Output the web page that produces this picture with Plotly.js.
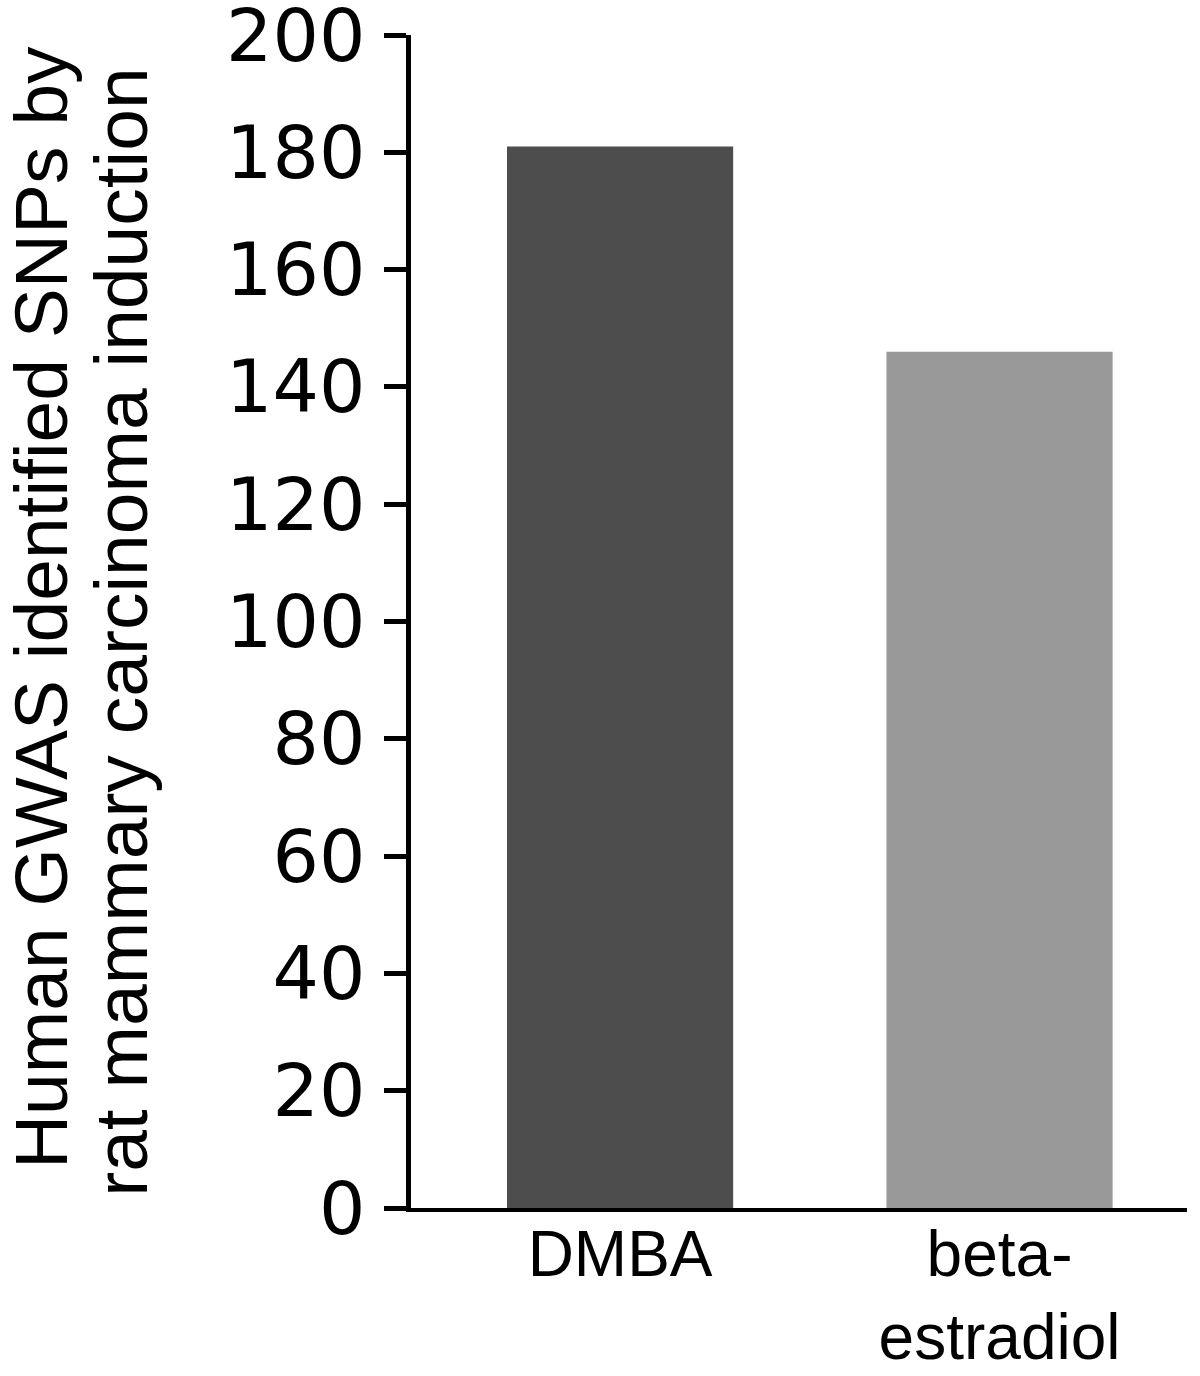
<!DOCTYPE html>
<html>
<head>
<meta charset="utf-8">
<script src="https://cdn.plot.ly/plotly-3.0.1.min.js"></script>
<style>
  html, body { margin: 0; padding: 0; background: #fff; }
  #chart { width: 1200px; height: 1376px; }
</style>
</head>
<body>
<div id="chart"></div>
<script>
// categories and counts
var categories = ['DMBA', 'beta-<br>estradiol'];
var snpCounts = [181, 146];
var barColors = ['#4d4d4d', '#999999'];
var yTickVals = [0, 20, 40, 60, 80, 100, 120, 140, 160, 180, 200];
var titleLines = ['Human GWAS identified SNPs by', 'rat mammary carcinoma induction'];

window.onload = function () {
    var trace = {
        x: categories,
        y: snpCounts,
        type: 'bar',
        width: 0.596,
        marker: {
            color: barColors,
            line: { width: 0 }
        },
        hoverinfo: 'none'
    };

    var layout = {
        width: 1200,
        height: 1376,
        paper_bgcolor: '#ffffff',
        plot_bgcolor: '#ffffff',
        margin: { l: 411, r: 13, t: 35, b: 168 },
        showlegend: false,
        xaxis: {
            type: 'category',
            range: [-0.551, 1.494],
            showline: true,
            linecolor: '#000000',
            linewidth: 4,
            ticks: '',
            showgrid: false,
            zeroline: false,
            fixedrange: true,
            ticklabelstandoff: -13,
            tickfont: { family: 'Liberation Sans, Arial, sans-serif', size: 64, color: '#000000' }
        },
        yaxis: {
            range: [0, 200],
            tickvals: yTickVals,
            showline: true,
            linecolor: '#000000',
            linewidth: 5,
            ticks: 'outside',
            ticklen: 22,
            tickwidth: 5,
            tickcolor: '#000000',
            showgrid: false,
            zeroline: false,
            fixedrange: true,
            ticklabeloverflow: 'allow',
            ticklabelstandoff: 4,
            tickfont: { family: 'DejaVu Sans, sans-serif', size: 73, color: '#000000' }
        },
        annotations: [
            {
                text: titleLines[0],
                xref: 'paper', yref: 'paper',
                x: -0.476, y: 0.512,
                xanchor: 'center', yanchor: 'middle',
                textangle: -90,
                showarrow: false,
                font: { family: 'Liberation Sans, Arial, sans-serif', size: 75, color: '#000000' }
            },
            {
                text: titleLines[1],
                xref: 'paper', yref: 'paper',
                x: -0.374, y: 0.491,
                xanchor: 'center', yanchor: 'middle',
                textangle: -90,
                showarrow: false,
                font: { family: 'Liberation Sans, Arial, sans-serif', size: 75, color: '#000000' }
            }
        ]
    };

    var options = {
        displayModeBar: false,
        staticPlot: true
    };

    Plotly.newPlot('chart', [trace], layout, options);
};
</script>
</body>
</html>
